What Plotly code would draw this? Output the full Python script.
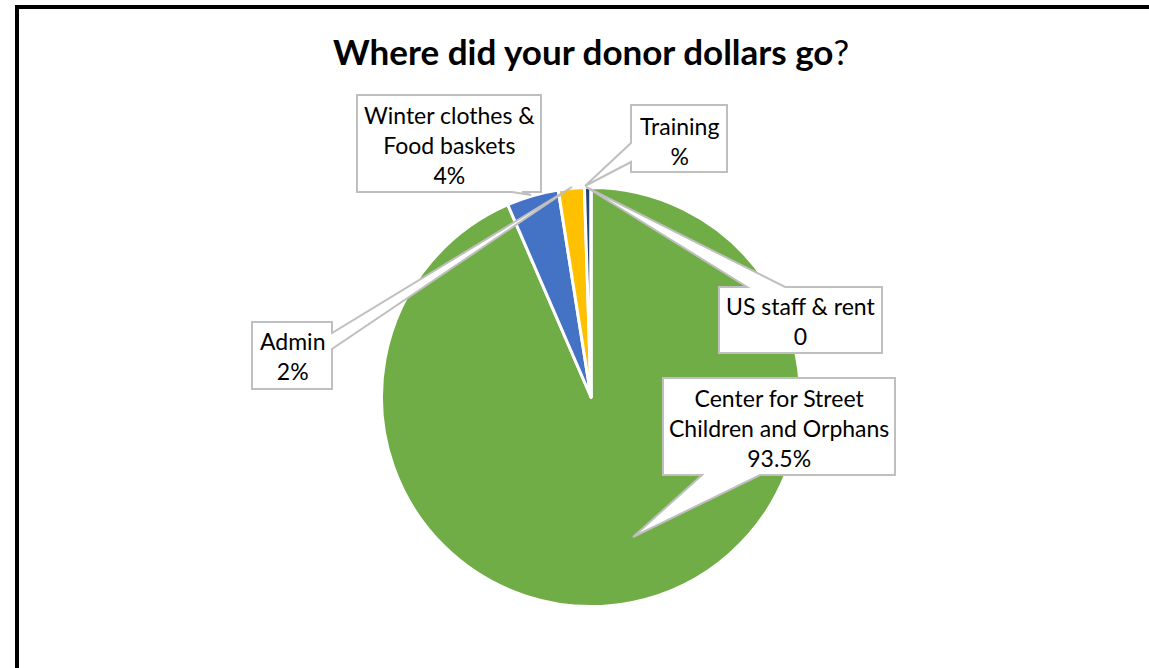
import plotly.graph_objects as go

# ---- data ----
categories = ["Center for Street Children and Orphans", "Winter clothes & Food baskets",
              "Admin", "Training", "US staff & rent"]
values = [93.5, 4, 2, 0.5, 0]
colors = ["#70AD47", "#4472C4", "#FFC000", "#264478", "#A5A5A5"]
label_texts = ["Center for Street<br>Children and Orphans<br>93.5%",
               "Winter clothes &<br>Food baskets<br>4%",
               "Admin<br>2%",
               "Training<br>%",
               "US staff & rent<br>0"]

W, H = 1149, 668


def fx(x):
    return x / W


def fy(y):
    return 1 - y / H


def path(points, close=True):
    s = "M" + " L".join(f"{fx(x):.5f},{fy(y):.5f}" for x, y in points)
    return s + (" Z" if close else "")


# pie geometry (pixels)
cx, cy, r = 591, 397, 209.5

fig = go.Figure(go.Pie(
    labels=categories, values=values, sort=False, direction="clockwise", rotation=0,
    marker=dict(colors=colors, line=dict(color="white", width=3)),
    textinfo="none", hoverinfo="label+value", showlegend=False,
    domain=dict(x=[fx(cx - r), fx(cx + r)], y=[fy(cy + r), fy(cy - r)]),
))

# callout polygons (box + wedge pointer), pixel coordinates
callouts = [
    # center
    [(663, 378), (895, 378), (895, 475), (760, 475), (633, 537), (702, 475), (663, 475)],
    # winter
    [(357, 95), (541, 95), (541, 192), (522, 192), (531, 195), (512, 192), (357, 192)],
    # admin
    [(252, 322), (332, 322), (332, 333), (572, 187), (332, 349), (332, 389), (252, 389)],
    # training
    [(631, 105), (727, 105), (727, 172), (631, 172), (631, 162), (585, 186), (631, 143)],
    # us staff
    [(719, 287), (747, 287), (586, 187), (785, 287), (882, 287), (882, 353), (719, 353)],
]
label_centers = [(779, 428), (449, 145), (292, 356), (679, 141), (800, 321)]

shapes = []
for pts in callouts:
    shapes.append(dict(type="path", xref="paper", yref="paper", path=path(pts),
                       fillcolor="white", line=dict(color="#BFBFBF", width=2), layer="above"))

# outer black frame (only top and left edges visible in the crop)
shapes.append(dict(type="path", xref="paper", yref="paper",
                   path=path([(1300, 7), (17, 7), (17, 760)], close=False),
                   line=dict(color="black", width=4), layer="above"))

annotations = []
for txt, (x, y) in zip(label_texts, label_centers):
    annotations.append(dict(text=txt, x=fx(x), y=fy(y), xref="paper", yref="paper",
                            xanchor="center", yanchor="middle", showarrow=False, align="center",
                            font=dict(family="Lato", size=23, color="black")))

annotations.append(dict(text="<b>Where did your donor dollars go</b>?", x=fx(591), y=fy(51),
                        xref="paper", yref="paper", xanchor="center", yanchor="middle",
                        showarrow=False, font=dict(family="Lato", size=35, color="black")))

fig.update_layout(
    width=W, height=H, margin=dict(l=0, r=0, t=0, b=0),
    paper_bgcolor="white", plot_bgcolor="white",
    shapes=shapes, annotations=annotations,
)

fig.write_html("out.html", config={"displayModeBar": False},
               post_script="document.body.style.margin='0px';"
                           "document.body.style.overflow='hidden';"
                           "document.documentElement.style.overflow='hidden';")
